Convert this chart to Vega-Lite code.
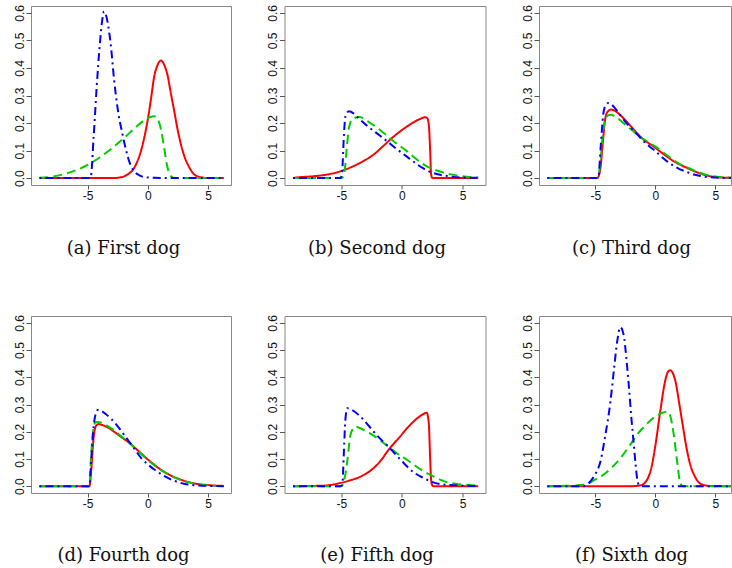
{
"$schema": "https://vega.github.io/schema/vega-lite/v6.json",
"padding": {"left": 12, "top": 4, "right": 0, "bottom": 0},
"background": "white",
"data": {"values": [
{"p":"a","s":"r","x":-9,"y":0},{"p":"a","s":"r","x":-3,"y":0},{"p":"a","s":"r","x":-2.25,"y":0.003},{"p":"a","s":"r","x":-1.69,"y":0.013},{"p":"a","s":"r","x":-1.14,"y":0.037},{"p":"a","s":"r","x":-0.58,"y":0.098},{"p":"a","s":"r","x":-0.03,"y":0.207},{"p":"a","s":"r","x":0.25,"y":0.285},{"p":"a","s":"r","x":0.53,"y":0.37},{"p":"a","s":"r","x":0.8,"y":0.41},{"p":"a","s":"r","x":1.08,"y":0.427},{"p":"a","s":"r","x":1.35,"y":0.412},{"p":"a","s":"r","x":1.64,"y":0.372},{"p":"a","s":"r","x":1.9,"y":0.31},{"p":"a","s":"r","x":2.19,"y":0.243},{"p":"a","s":"r","x":2.45,"y":0.18},{"p":"a","s":"r","x":2.75,"y":0.122},{"p":"a","s":"r","x":3.0,"y":0.083},{"p":"a","s":"r","x":3.31,"y":0.05},{"p":"a","s":"r","x":3.6,"y":0.027},{"p":"a","s":"r","x":3.86,"y":0.013},{"p":"a","s":"r","x":4.42,"y":0.003},{"p":"a","s":"r","x":5,"y":0},{"p":"a","s":"r","x":6.3,"y":0},
{"p":"a","s":"g","x":-9,"y":0.001},{"p":"a","s":"g","x":-8,"y":0.005},{"p":"a","s":"g","x":-7,"y":0.014},{"p":"a","s":"g","x":-6,"y":0.028},{"p":"a","s":"g","x":-5,"y":0.048},{"p":"a","s":"g","x":-4,"y":0.075},{"p":"a","s":"g","x":-3,"y":0.108},{"p":"a","s":"g","x":-2,"y":0.145},{"p":"a","s":"g","x":-1,"y":0.185},{"p":"a","s":"g","x":-0.3,"y":0.21},{"p":"a","s":"g","x":0.2,"y":0.222},{"p":"a","s":"g","x":0.5,"y":0.225},{"p":"a","s":"g","x":0.8,"y":0.215},{"p":"a","s":"g","x":1.1,"y":0.175},{"p":"a","s":"g","x":1.35,"y":0.11},{"p":"a","s":"g","x":1.6,"y":0.045},{"p":"a","s":"g","x":1.9,"y":0.008},{"p":"a","s":"g","x":2.2,"y":0},{"p":"a","s":"g","x":6.3,"y":0},
{"p":"a","s":"b","x":-9,"y":0},{"p":"a","s":"b","x":-5,"y":0},{"p":"a","s":"b","x":-4.75,"y":0.002},{"p":"a","s":"b","x":-4.5,"y":0.15},{"p":"a","s":"b","x":-4.25,"y":0.33},{"p":"a","s":"b","x":-4.0,"y":0.48},{"p":"a","s":"b","x":-3.8,"y":0.57},{"p":"a","s":"b","x":-3.64,"y":0.605},{"p":"a","s":"b","x":-3.5,"y":0.595},{"p":"a","s":"b","x":-3.36,"y":0.57},{"p":"a","s":"b","x":-3.08,"y":0.485},{"p":"a","s":"b","x":-2.81,"y":0.36},{"p":"a","s":"b","x":-2.5,"y":0.25},{"p":"a","s":"b","x":-2.11,"y":0.16},{"p":"a","s":"b","x":-1.8,"y":0.1},{"p":"a","s":"b","x":-1.56,"y":0.062},{"p":"a","s":"b","x":-1.14,"y":0.025},{"p":"a","s":"b","x":-0.7,"y":0.01},{"p":"a","s":"b","x":-0.3,"y":0.004},{"p":"a","s":"b","x":0.5,"y":0.001},{"p":"a","s":"b","x":6.3,"y":0},
{"p":"b","s":"r","x":-9,"y":0},{"p":"b","s":"r","x":-8.9,"y":0.001},{"p":"b","s":"r","x":-7.26,"y":0.007},{"p":"b","s":"r","x":-6.17,"y":0.013},{"p":"b","s":"r","x":-5.07,"y":0.025},{"p":"b","s":"r","x":-3.7,"y":0.05},{"p":"b","s":"r","x":-2.33,"y":0.086},{"p":"b","s":"r","x":-1.51,"y":0.118},{"p":"b","s":"r","x":-0.82,"y":0.146},{"p":"b","s":"r","x":-0.14,"y":0.17},{"p":"b","s":"r","x":0.68,"y":0.195},{"p":"b","s":"r","x":1.5,"y":0.215},{"p":"b","s":"r","x":1.91,"y":0.221},{"p":"b","s":"r","x":2.1,"y":0.217},{"p":"b","s":"r","x":2.24,"y":0.183},{"p":"b","s":"r","x":2.33,"y":0.098},{"p":"b","s":"r","x":2.41,"y":0.013},{"p":"b","s":"r","x":2.5,"y":0.001},{"p":"b","s":"r","x":2.6,"y":0},{"p":"b","s":"r","x":6.3,"y":0},
{"p":"b","s":"g","x":-9,"y":0},{"p":"b","s":"g","x":-5,"y":0},{"p":"b","s":"g","x":-4.79,"y":0.01},{"p":"b","s":"g","x":-4.58,"y":0.098},{"p":"b","s":"g","x":-4.39,"y":0.18},{"p":"b","s":"g","x":-4.11,"y":0.213},{"p":"b","s":"g","x":-3.56,"y":0.222},{"p":"b","s":"g","x":-2.6,"y":0.2},{"p":"b","s":"g","x":-1.51,"y":0.164},{"p":"b","s":"g","x":-0.69,"y":0.134},{"p":"b","s":"g","x":0.41,"y":0.098},{"p":"b","s":"g","x":1.1,"y":0.072},{"p":"b","s":"g","x":1.78,"y":0.05},{"p":"b","s":"g","x":2.6,"y":0.032},{"p":"b","s":"g","x":3.7,"y":0.017},{"p":"b","s":"g","x":4.5,"y":0.01},{"p":"b","s":"g","x":5.34,"y":0.005},{"p":"b","s":"g","x":6.3,"y":0.002},
{"p":"b","s":"b","x":-9,"y":0},{"p":"b","s":"b","x":-5.07,"y":0},{"p":"b","s":"b","x":-4.93,"y":0.03},{"p":"b","s":"b","x":-4.79,"y":0.159},{"p":"b","s":"b","x":-4.66,"y":0.225},{"p":"b","s":"b","x":-4.39,"y":0.243},{"p":"b","s":"b","x":-4.0,"y":0.235},{"p":"b","s":"b","x":-3.7,"y":0.222},{"p":"b","s":"b","x":-2.88,"y":0.19},{"p":"b","s":"b","x":-1.78,"y":0.153},{"p":"b","s":"b","x":-1.23,"y":0.134},{"p":"b","s":"b","x":-0.5,"y":0.108},{"p":"b","s":"b","x":0.41,"y":0.078},{"p":"b","s":"b","x":1.1,"y":0.055},{"p":"b","s":"b","x":1.78,"y":0.035},{"p":"b","s":"b","x":2.5,"y":0.02},{"p":"b","s":"b","x":3.15,"y":0.012},{"p":"b","s":"b","x":4,"y":0.006},{"p":"b","s":"b","x":5,"y":0.002},{"p":"b","s":"b","x":6.3,"y":0.001},
{"p":"c","s":"r","x":-9,"y":0},{"p":"c","s":"r","x":-4.85,"y":0},{"p":"c","s":"r","x":-4.6,"y":0.03},{"p":"c","s":"r","x":-4.4,"y":0.12},{"p":"c","s":"r","x":-4.2,"y":0.21},{"p":"c","s":"r","x":-4.0,"y":0.24},{"p":"c","s":"r","x":-3.7,"y":0.249},{"p":"c","s":"r","x":-3.4,"y":0.245},{"p":"c","s":"r","x":-3.0,"y":0.232},{"p":"c","s":"r","x":-2.5,"y":0.21},{"p":"c","s":"r","x":-2.0,"y":0.186},{"p":"c","s":"r","x":-1.5,"y":0.162},{"p":"c","s":"r","x":-1.0,"y":0.14},{"p":"c","s":"r","x":-0.5,"y":0.125},{"p":"c","s":"r","x":0,"y":0.11},{"p":"c","s":"r","x":0.5,"y":0.093},{"p":"c","s":"r","x":1,"y":0.077},{"p":"c","s":"r","x":1.5,"y":0.062},{"p":"c","s":"r","x":2,"y":0.05},{"p":"c","s":"r","x":2.64,"y":0.037},{"p":"c","s":"r","x":3.2,"y":0.026},{"p":"c","s":"r","x":4,"y":0.013},{"p":"c","s":"r","x":5,"y":0.004},{"p":"c","s":"r","x":6.3,"y":0.001},
{"p":"c","s":"g","x":-9,"y":0},{"p":"c","s":"g","x":-4.85,"y":0},{"p":"c","s":"g","x":-4.6,"y":0.05},{"p":"c","s":"g","x":-4.4,"y":0.15},{"p":"c","s":"g","x":-4.2,"y":0.21},{"p":"c","s":"g","x":-3.95,"y":0.228},{"p":"c","s":"g","x":-3.7,"y":0.23},{"p":"c","s":"g","x":-3.3,"y":0.222},{"p":"c","s":"g","x":-2.8,"y":0.205},{"p":"c","s":"g","x":-2.2,"y":0.183},{"p":"c","s":"g","x":-1.5,"y":0.158},{"p":"c","s":"g","x":-1.0,"y":0.142},{"p":"c","s":"g","x":-0.5,"y":0.128},{"p":"c","s":"g","x":0,"y":0.115},{"p":"c","s":"g","x":0.5,"y":0.098},{"p":"c","s":"g","x":1,"y":0.082},{"p":"c","s":"g","x":1.5,"y":0.066},{"p":"c","s":"g","x":2,"y":0.052},{"p":"c","s":"g","x":2.64,"y":0.04},{"p":"c","s":"g","x":3.2,"y":0.028},{"p":"c","s":"g","x":4,"y":0.015},{"p":"c","s":"g","x":5,"y":0.006},{"p":"c","s":"g","x":6.3,"y":0.002},
{"p":"c","s":"b","x":-9,"y":0},{"p":"c","s":"b","x":-4.85,"y":0},{"p":"c","s":"b","x":-4.75,"y":0.003},{"p":"c","s":"b","x":-4.55,"y":0.12},{"p":"c","s":"b","x":-4.35,"y":0.23},{"p":"c","s":"b","x":-4.15,"y":0.265},{"p":"c","s":"b","x":-3.9,"y":0.273},{"p":"c","s":"b","x":-3.6,"y":0.265},{"p":"c","s":"b","x":-3.2,"y":0.245},{"p":"c","s":"b","x":-2.6,"y":0.21},{"p":"c","s":"b","x":-2.0,"y":0.18},{"p":"c","s":"b","x":-1.5,"y":0.158},{"p":"c","s":"b","x":-1.0,"y":0.135},{"p":"c","s":"b","x":-0.5,"y":0.115},{"p":"c","s":"b","x":0,"y":0.098},{"p":"c","s":"b","x":0.5,"y":0.078},{"p":"c","s":"b","x":1,"y":0.06},{"p":"c","s":"b","x":1.5,"y":0.045},{"p":"c","s":"b","x":2,"y":0.033},{"p":"c","s":"b","x":2.64,"y":0.022},{"p":"c","s":"b","x":3.2,"y":0.013},{"p":"c","s":"b","x":4,"y":0.006},{"p":"c","s":"b","x":5,"y":0.002},{"p":"c","s":"b","x":6.3,"y":0},
{"p":"d","s":"r","x":-9,"y":0},{"p":"d","s":"r","x":-4.85,"y":0},{"p":"d","s":"r","x":-4.7,"y":0.06},{"p":"d","s":"r","x":-4.5,"y":0.18},{"p":"d","s":"r","x":-4.3,"y":0.222},{"p":"d","s":"r","x":-4.1,"y":0.228},{"p":"d","s":"r","x":-3.8,"y":0.225},{"p":"d","s":"r","x":-3.3,"y":0.215},{"p":"d","s":"r","x":-2.8,"y":0.2},{"p":"d","s":"r","x":-2.2,"y":0.18},{"p":"d","s":"r","x":-1.56,"y":0.16},{"p":"d","s":"r","x":-1.0,"y":0.138},{"p":"d","s":"r","x":-0.5,"y":0.118},{"p":"d","s":"r","x":0,"y":0.098},{"p":"d","s":"r","x":0.5,"y":0.08},{"p":"d","s":"r","x":1,"y":0.063},{"p":"d","s":"r","x":1.5,"y":0.049},{"p":"d","s":"r","x":2,"y":0.037},{"p":"d","s":"r","x":2.5,"y":0.028},{"p":"d","s":"r","x":3,"y":0.02},{"p":"d","s":"r","x":3.5,"y":0.014},{"p":"d","s":"r","x":4,"y":0.009},{"p":"d","s":"r","x":5,"y":0.004},{"p":"d","s":"r","x":6.3,"y":0.001},
{"p":"d","s":"g","x":-9,"y":0},{"p":"d","s":"g","x":-4.85,"y":0},{"p":"d","s":"g","x":-4.75,"y":0.08},{"p":"d","s":"g","x":-4.55,"y":0.2},{"p":"d","s":"g","x":-4.35,"y":0.235},{"p":"d","s":"g","x":-4.1,"y":0.236},{"p":"d","s":"g","x":-3.8,"y":0.232},{"p":"d","s":"g","x":-3.3,"y":0.22},{"p":"d","s":"g","x":-2.8,"y":0.205},{"p":"d","s":"g","x":-2.2,"y":0.183},{"p":"d","s":"g","x":-1.56,"y":0.16},{"p":"d","s":"g","x":-1.0,"y":0.137},{"p":"d","s":"g","x":-0.5,"y":0.116},{"p":"d","s":"g","x":0,"y":0.096},{"p":"d","s":"g","x":0.5,"y":0.078},{"p":"d","s":"g","x":1,"y":0.062},{"p":"d","s":"g","x":1.5,"y":0.048},{"p":"d","s":"g","x":2,"y":0.036},{"p":"d","s":"g","x":2.5,"y":0.027},{"p":"d","s":"g","x":3,"y":0.019},{"p":"d","s":"g","x":3.5,"y":0.013},{"p":"d","s":"g","x":4,"y":0.008},{"p":"d","s":"g","x":5,"y":0.003},{"p":"d","s":"g","x":6.3,"y":0.001},
{"p":"d","s":"b","x":-9,"y":0},{"p":"d","s":"b","x":-4.85,"y":0},{"p":"d","s":"b","x":-4.7,"y":0.1},{"p":"d","s":"b","x":-4.5,"y":0.22},{"p":"d","s":"b","x":-4.3,"y":0.27},{"p":"d","s":"b","x":-4.15,"y":0.28},{"p":"d","s":"b","x":-3.9,"y":0.277},{"p":"d","s":"b","x":-3.5,"y":0.265},{"p":"d","s":"b","x":-3.0,"y":0.245},{"p":"d","s":"b","x":-2.5,"y":0.22},{"p":"d","s":"b","x":-2.0,"y":0.19},{"p":"d","s":"b","x":-1.56,"y":0.164},{"p":"d","s":"b","x":-1.0,"y":0.13},{"p":"d","s":"b","x":-0.5,"y":0.1},{"p":"d","s":"b","x":0,"y":0.08},{"p":"d","s":"b","x":0.5,"y":0.062},{"p":"d","s":"b","x":1,"y":0.047},{"p":"d","s":"b","x":1.5,"y":0.034},{"p":"d","s":"b","x":2,"y":0.023},{"p":"d","s":"b","x":2.5,"y":0.015},{"p":"d","s":"b","x":3,"y":0.009},{"p":"d","s":"b","x":3.5,"y":0.005},{"p":"d","s":"b","x":4.5,"y":0.002},{"p":"d","s":"b","x":6.3,"y":0},
{"p":"e","s":"r","x":-9,"y":0},{"p":"e","s":"r","x":-6.44,"y":0.002},{"p":"e","s":"r","x":-5.07,"y":0.012},{"p":"e","s":"r","x":-4.4,"y":0.02},{"p":"e","s":"r","x":-3.7,"y":0.03},{"p":"e","s":"r","x":-3.0,"y":0.045},{"p":"e","s":"r","x":-2.33,"y":0.067},{"p":"e","s":"r","x":-1.7,"y":0.097},{"p":"e","s":"r","x":-1.1,"y":0.134},{"p":"e","s":"r","x":-0.6,"y":0.16},{"p":"e","s":"r","x":-0.14,"y":0.183},{"p":"e","s":"r","x":0.4,"y":0.212},{"p":"e","s":"r","x":0.95,"y":0.237},{"p":"e","s":"r","x":1.45,"y":0.256},{"p":"e","s":"r","x":1.91,"y":0.268},{"p":"e","s":"r","x":2.05,"y":0.27},{"p":"e","s":"r","x":2.15,"y":0.255},{"p":"e","s":"r","x":2.24,"y":0.213},{"p":"e","s":"r","x":2.33,"y":0.1},{"p":"e","s":"r","x":2.4,"y":0.03},{"p":"e","s":"r","x":2.47,"y":0.006},{"p":"e","s":"r","x":2.6,"y":0},{"p":"e","s":"r","x":6.3,"y":0},
{"p":"e","s":"g","x":-9,"y":0},{"p":"e","s":"g","x":-5,"y":0},{"p":"e","s":"g","x":-4.8,"y":0.018},{"p":"e","s":"g","x":-4.65,"y":0.05},{"p":"e","s":"g","x":-4.52,"y":0.091},{"p":"e","s":"g","x":-4.25,"y":0.189},{"p":"e","s":"g","x":-3.97,"y":0.215},{"p":"e","s":"g","x":-3.84,"y":0.219},{"p":"e","s":"g","x":-3.4,"y":0.212},{"p":"e","s":"g","x":-2.9,"y":0.2},{"p":"e","s":"g","x":-2.33,"y":0.186},{"p":"e","s":"g","x":-1.7,"y":0.165},{"p":"e","s":"g","x":-0.96,"y":0.14},{"p":"e","s":"g","x":-0.3,"y":0.117},{"p":"e","s":"g","x":0.41,"y":0.097},{"p":"e","s":"g","x":1.1,"y":0.075},{"p":"e","s":"g","x":1.78,"y":0.055},{"p":"e","s":"g","x":2.5,"y":0.038},{"p":"e","s":"g","x":3.15,"y":0.024},{"p":"e","s":"g","x":3.8,"y":0.014},{"p":"e","s":"g","x":4.52,"y":0.008},{"p":"e","s":"g","x":5.4,"y":0.004},{"p":"e","s":"g","x":6.3,"y":0.002},
{"p":"e","s":"b","x":-9,"y":0},{"p":"e","s":"b","x":-5.1,"y":0},{"p":"e","s":"b","x":-4.93,"y":0.005},{"p":"e","s":"b","x":-4.8,"y":0.12},{"p":"e","s":"b","x":-4.68,"y":0.24},{"p":"e","s":"b","x":-4.52,"y":0.286},{"p":"e","s":"b","x":-4.2,"y":0.282},{"p":"e","s":"b","x":-3.8,"y":0.27},{"p":"e","s":"b","x":-3.43,"y":0.256},{"p":"e","s":"b","x":-2.9,"y":0.23},{"p":"e","s":"b","x":-2.33,"y":0.2},{"p":"e","s":"b","x":-1.7,"y":0.17},{"p":"e","s":"b","x":-1.1,"y":0.145},{"p":"e","s":"b","x":-0.5,"y":0.115},{"p":"e","s":"b","x":0,"y":0.092},{"p":"e","s":"b","x":0.41,"y":0.073},{"p":"e","s":"b","x":1.0,"y":0.05},{"p":"e","s":"b","x":1.78,"y":0.03},{"p":"e","s":"b","x":2.4,"y":0.017},{"p":"e","s":"b","x":3.15,"y":0.008},{"p":"e","s":"b","x":4.52,"y":0.003},{"p":"e","s":"b","x":6.3,"y":0.001},
{"p":"f","s":"r","x":-9,"y":0},{"p":"f","s":"r","x":-2,"y":0},{"p":"f","s":"r","x":-1.25,"y":0.003},{"p":"f","s":"r","x":-0.69,"y":0.024},{"p":"f","s":"r","x":-0.3,"y":0.075},{"p":"f","s":"r","x":0,"y":0.15},{"p":"f","s":"r","x":0.42,"y":0.28},{"p":"f","s":"r","x":0.83,"y":0.39},{"p":"f","s":"r","x":1.05,"y":0.42},{"p":"f","s":"r","x":1.25,"y":0.426},{"p":"f","s":"r","x":1.45,"y":0.415},{"p":"f","s":"r","x":1.67,"y":0.385},{"p":"f","s":"r","x":2.0,"y":0.3},{"p":"f","s":"r","x":2.22,"y":0.24},{"p":"f","s":"r","x":2.64,"y":0.13},{"p":"f","s":"r","x":3.0,"y":0.065},{"p":"f","s":"r","x":3.19,"y":0.045},{"p":"f","s":"r","x":3.5,"y":0.02},{"p":"f","s":"r","x":3.89,"y":0.006},{"p":"f","s":"r","x":4.5,"y":0.001},{"p":"f","s":"r","x":6.3,"y":0},
{"p":"f","s":"g","x":-9,"y":0},{"p":"f","s":"g","x":-8,"y":0.001},{"p":"f","s":"g","x":-7,"y":0.002},{"p":"f","s":"g","x":-6,"y":0.005},{"p":"f","s":"g","x":-5.5,"y":0.012},{"p":"f","s":"g","x":-5,"y":0.025},{"p":"f","s":"g","x":-4.3,"y":0.043},{"p":"f","s":"g","x":-3.6,"y":0.07},{"p":"f","s":"g","x":-2.92,"y":0.103},{"p":"f","s":"g","x":-2.2,"y":0.145},{"p":"f","s":"g","x":-1.53,"y":0.189},{"p":"f","s":"g","x":-0.8,"y":0.225},{"p":"f","s":"g","x":-0.14,"y":0.252},{"p":"f","s":"g","x":0.5,"y":0.268},{"p":"f","s":"g","x":0.97,"y":0.274},{"p":"f","s":"g","x":1.25,"y":0.256},{"p":"f","s":"g","x":1.53,"y":0.189},{"p":"f","s":"g","x":1.81,"y":0.091},{"p":"f","s":"g","x":2.08,"y":0.01},{"p":"f","s":"g","x":2.3,"y":0},{"p":"f","s":"g","x":6.3,"y":0},
{"p":"f","s":"b","x":-9,"y":0},{"p":"f","s":"b","x":-6,"y":0},{"p":"f","s":"b","x":-5.42,"y":0.018},{"p":"f","s":"b","x":-5.0,"y":0.045},{"p":"f","s":"b","x":-4.58,"y":0.091},{"p":"f","s":"b","x":-4.2,"y":0.18},{"p":"f","s":"b","x":-3.75,"y":0.31},{"p":"f","s":"b","x":-3.45,"y":0.43},{"p":"f","s":"b","x":-3.19,"y":0.53},{"p":"f","s":"b","x":-2.92,"y":0.584},{"p":"f","s":"b","x":-2.64,"y":0.554},{"p":"f","s":"b","x":-2.42,"y":0.47},{"p":"f","s":"b","x":-2.22,"y":0.371},{"p":"f","s":"b","x":-2.0,"y":0.25},{"p":"f","s":"b","x":-1.8,"y":0.152},{"p":"f","s":"b","x":-1.65,"y":0.08},{"p":"f","s":"b","x":-1.53,"y":0.03},{"p":"f","s":"b","x":-1.39,"y":0.005},{"p":"f","s":"b","x":-1.2,"y":0},{"p":"f","s":"b","x":6.3,"y":0}
]},
"columns": 3,
"spacing": {"row": 131, "column": 53.5},
"bounds": "flush",
"concat": [
{"width": 200, "height": 179, "transform": [{"filter": "datum.p == 'a'"}], "mark": {"type": "line", "strokeWidth": 2, "clip": true, "interpolate": "monotone"},
 "encoding": {"x": {"field": "x", "type": "quantitative", "scale": {"domain": [-9.7, 6.9], "nice": false, "zero": false}, "axis": {"title": "(a) First dog", "titleY": 68, "values": [-5, 0, 5]}},
  "y": {"field": "y", "type": "quantitative", "scale": {"domain": [-0.025, 0.625], "nice": false, "zero": false}, "axis": {"values": [0, 0.1, 0.2, 0.3, 0.4, 0.5, 0.6]}},
  "color": {"field": "s", "type": "nominal", "scale": {"domain": ["r", "g", "b"], "range": ["#FF0000", "#00CD00", "#0000FF"]}, "legend": null},
  "strokeDash": {"field": "s", "type": "nominal", "scale": {"domain": ["r", "g", "b"], "range": [[1, 0], [9, 5], [2, 4, 8, 4]]}, "legend": null}}},
{"width": 201, "height": 179, "transform": [{"filter": "datum.p == 'b'"}], "mark": {"type": "line", "strokeWidth": 2, "clip": true, "interpolate": "monotone"},
 "encoding": {"x": {"field": "x", "type": "quantitative", "scale": {"domain": [-9.7, 6.9], "nice": false, "zero": false}, "axis": {"title": "(b) Second dog", "titleY": 68, "values": [-5, 0, 5]}},
  "y": {"field": "y", "type": "quantitative", "scale": {"domain": [-0.025, 0.625], "nice": false, "zero": false}, "axis": {"values": [0, 0.1, 0.2, 0.3, 0.4, 0.5, 0.6]}},
  "color": {"field": "s", "type": "nominal", "scale": {"domain": ["r", "g", "b"], "range": ["#FF0000", "#00CD00", "#0000FF"]}, "legend": null},
  "strokeDash": {"field": "s", "type": "nominal", "scale": {"domain": ["r", "g", "b"], "range": [[1, 0], [9, 5], [2, 4, 8, 4]]}, "legend": null}}},
{"width": 192, "height": 179, "transform": [{"filter": "datum.p == 'c'"}], "mark": {"type": "line", "strokeWidth": 2, "clip": true, "interpolate": "monotone"},
 "encoding": {"x": {"field": "x", "type": "quantitative", "scale": {"domain": [-9.7, 6.3], "nice": false, "zero": false}, "axis": {"title": "(c) Third dog", "titleY": 68, "values": [-5, 0, 5]}},
  "y": {"field": "y", "type": "quantitative", "scale": {"domain": [-0.025, 0.625], "nice": false, "zero": false}, "axis": {"values": [0, 0.1, 0.2, 0.3, 0.4, 0.5, 0.6]}},
  "color": {"field": "s", "type": "nominal", "scale": {"domain": ["r", "g", "b"], "range": ["#FF0000", "#00CD00", "#0000FF"]}, "legend": null},
  "strokeDash": {"field": "s", "type": "nominal", "scale": {"domain": ["r", "g", "b"], "range": [[1, 0], [9, 5], [2, 4, 8, 4]]}, "legend": null}}},
{"width": 200, "height": 177, "transform": [{"filter": "datum.p == 'd'"}], "mark": {"type": "line", "strokeWidth": 2, "clip": true, "interpolate": "monotone"},
 "encoding": {"x": {"field": "x", "type": "quantitative", "scale": {"domain": [-9.7, 6.9], "nice": false, "zero": false}, "axis": {"title": "(d) Fourth dog", "titleY": 67, "values": [-5, 0, 5]}},
  "y": {"field": "y", "type": "quantitative", "scale": {"domain": [-0.025, 0.625], "nice": false, "zero": false}, "axis": {"values": [0, 0.1, 0.2, 0.3, 0.4, 0.5, 0.6]}},
  "color": {"field": "s", "type": "nominal", "scale": {"domain": ["r", "g", "b"], "range": ["#FF0000", "#00CD00", "#0000FF"]}, "legend": null},
  "strokeDash": {"field": "s", "type": "nominal", "scale": {"domain": ["r", "g", "b"], "range": [[1, 0], [9, 5], [2, 4, 8, 4]]}, "legend": null}}},
{"width": 201, "height": 177, "transform": [{"filter": "datum.p == 'e'"}], "mark": {"type": "line", "strokeWidth": 2, "clip": true, "interpolate": "monotone"},
 "encoding": {"x": {"field": "x", "type": "quantitative", "scale": {"domain": [-9.7, 6.9], "nice": false, "zero": false}, "axis": {"title": "(e) Fifth dog", "titleY": 67, "values": [-5, 0, 5]}},
  "y": {"field": "y", "type": "quantitative", "scale": {"domain": [-0.025, 0.625], "nice": false, "zero": false}, "axis": {"values": [0, 0.1, 0.2, 0.3, 0.4, 0.5, 0.6]}},
  "color": {"field": "s", "type": "nominal", "scale": {"domain": ["r", "g", "b"], "range": ["#FF0000", "#00CD00", "#0000FF"]}, "legend": null},
  "strokeDash": {"field": "s", "type": "nominal", "scale": {"domain": ["r", "g", "b"], "range": [[1, 0], [9, 5], [2, 4, 8, 4]]}, "legend": null}}},
{"width": 192, "height": 177, "transform": [{"filter": "datum.p == 'f'"}], "mark": {"type": "line", "strokeWidth": 2, "clip": true, "interpolate": "monotone"},
 "encoding": {"x": {"field": "x", "type": "quantitative", "scale": {"domain": [-9.7, 6.3], "nice": false, "zero": false}, "axis": {"title": "(f) Sixth dog", "titleY": 67, "values": [-5, 0, 5]}},
  "y": {"field": "y", "type": "quantitative", "scale": {"domain": [-0.025, 0.625], "nice": false, "zero": false}, "axis": {"values": [0, 0.1, 0.2, 0.3, 0.4, 0.5, 0.6]}},
  "color": {"field": "s", "type": "nominal", "scale": {"domain": ["r", "g", "b"], "range": ["#FF0000", "#00CD00", "#0000FF"]}, "legend": null},
  "strokeDash": {"field": "s", "type": "nominal", "scale": {"domain": ["r", "g", "b"], "range": [[1, 0], [9, 5], [2, 4, 8, 4]]}, "legend": null}}}
],
"config": {
 "view": {"stroke": "#888888", "strokeWidth": 1},
 "axisX": {"grid": false, "domain": false, "tickSize": 4, "tickColor": "#555555", "labelPadding": 1, "labelFont": "Liberation Sans", "labelFontSize": 12, "labelColor": "#111111", "labelExpr": "replace(datum.label, '−', '-')", "labelFlush": false,
   "titleFont": "DejaVu Serif", "titleFontSize": 18, "titleFontWeight": "normal", "titleColor": "#111111", "titleX": 92, "titleAlign": "center", "titleBaseline": "alphabetic", "titleAngle": 0},
 "axisY": {"format": ".1f", "grid": false, "domain": false, "tickSize": 5, "tickColor": "#555555", "labelPadding": 3, "labelAngle": -90, "labelAlign": "center", "labelBaseline": "alphabetic", "labelFont": "Liberation Sans", "labelFontSize": 12, "labelColor": "#111111", "labelFlush": false, "labelOverlap": false, "title": null}
}
}
